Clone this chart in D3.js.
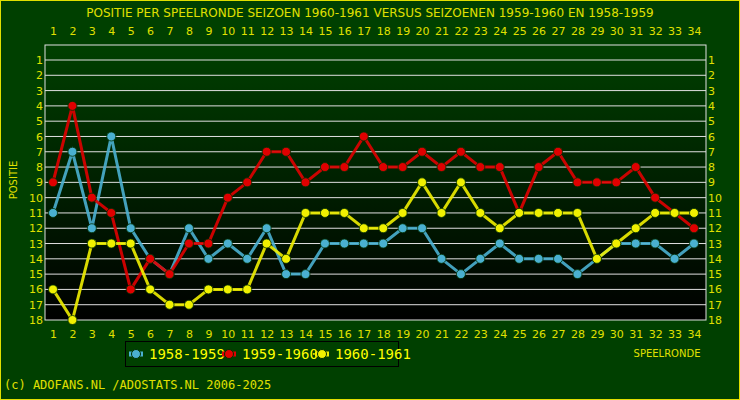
<!DOCTYPE html>
<html><head><meta charset="utf-8">
<script src="https://cdn.jsdelivr.net/npm/d3@7"></script>
<style>body{margin:0;background:#004000}</style>
</head><body>
<script>
const rounds = d3.range(1, 35);
const s5859 = [11,7,12,6,12,14,15,12,14,13,14,12,15,15,13,13,13,13,12,12,14,15,14,13,14,14,14,15,14,13,13,13,14,13];
const s5960 = [9,4,10,11,16,14,15,13,13,10,9,7,7,9,8,8,6,8,8,7,8,7,8,8,11,8,7,9,9,9,8,10,11,12];
const s6061 = [16,18,13,13,13,16,17,17,16,16,16,13,14,11,11,11,12,12,11,9,11,9,11,12,11,11,11,11,14,13,12,11,11,11];
const seriesNames = ["1958-1959", "1959-1960", "1960-1961"];
const colors = ["#4ab0d0", "#e00000", "#f0f000"];

const width = 740, height = 400;
const svg = d3.select("body").append("svg").attr("width", width).attr("height", height);

svg.append("rect").attr("x", 0.5).attr("y", 0.5).attr("width", width - 1).attr("height", height - 1)
    .attr("fill", "#004000").attr("stroke", "#e0e000");

const grad = svg.append("defs").append("linearGradient").attr("id", "bg").attr("x1", 0).attr("y1", 0).attr("x2", 0).attr("y2", 1);
grad.append("stop").attr("offset", "0%").attr("stop-color", "#004000");
grad.append("stop").attr("offset", "100%").attr("stop-color", "#000000");

const plotLeft = 45, plotRight = 706, plotTop = 45, plotBottom = 320;
const x = d3.scaleLinear().domain([1, 34]).range([53, 694]);
const y = d3.scaleLinear().domain([1, 18]).range([60, 320]);

svg.append("rect").attr("x", plotLeft).attr("y", plotTop).attr("width", plotRight - plotLeft).attr("height", plotBottom - plotTop)
    .attr("fill", "url(#bg)").attr("stroke", "#e0e0e0");

// grid lines
svg.append("g").selectAll("line").data(d3.range(1, 18)).join("line")
    .attr("x1", plotLeft).attr("x2", plotRight).attr("y1", d => y(d)).attr("y2", d => y(d))
    .attr("stroke", "#e0e0e0").attr("stroke-width", 1);

const font = "DejaVu Sans, sans-serif";
svg.append("text").attr("x", 370).attr("y", 17).attr("text-anchor", "middle")
    .attr("fill", "#e0e000").style("font", `12px ${font}`)
    .text("POSITIE PER SPEELRONDE SEIZOEN 1960-1961 VERSUS SEIZOENEN 1959-1960 EN 1958-1959");

// axes as tick labels
const tickStyle = g => g.selectAll("text").attr("fill", "#e0e000").style("font", `11px ${font}`);
[[38, "axisTop"], [327, "axisBottom"]].forEach(([ty, fn]) => {
    const g = svg.append("g").attr("transform", `translate(0,${ty})`)
        .call(d3[fn](x).tickValues(rounds).tickSize(0).tickFormat(d3.format("d")));
    g.select(".domain").remove();
    tickStyle(g);
});
[[plotLeft, "axisLeft"], [plotRight, "axisRight"]].forEach(([tx, fn]) => {
    const g = svg.append("g").attr("transform", `translate(${tx},0)`)
        .call(d3[fn](y).tickValues(d3.range(1, 19)).tickSize(0).tickPadding(2).tickFormat(d3.format("d")));
    g.select(".domain").remove();
    tickStyle(g);
});

svg.append("text").attr("transform", "translate(17,180) rotate(-90)").attr("text-anchor", "middle")
    .attr("fill", "#e0e000").style("font", `10px ${font}`).text("POSITIE");
svg.append("text").attr("x", 667).attr("y", 357).attr("text-anchor", "middle")
    .attr("fill", "#e0e000").style("font", `10px ${font}`).text("SPEELRONDE");

// series
const line = d3.line().x((d, i) => x(rounds[i])).y(d => y(d));
[s5859, s5960, s6061].forEach((s, k) => {
    svg.append("path").datum(s).attr("d", line).attr("fill", "none")
        .attr("stroke", colors[k]).attr("stroke-width", 3).attr("opacity", 0.9);
    svg.append("g").selectAll("circle").data(s).join("circle")
        .attr("cx", (d, i) => x(rounds[i])).attr("cy", d => y(d)).attr("r", 4.5)
        .attr("fill", colors[k]).attr("stroke", "#003000").attr("stroke-width", 0.8);
});

// legend
svg.append("rect").attr("x", 125.5).attr("y", 341.5).attr("width", 273).attr("height", 25)
    .attr("fill", "#004000").attr("stroke", "#000");
seriesNames.forEach((n, k) => {
    const lx = 129 + k * 93;
    svg.append("line").attr("x1", lx).attr("x2", lx + 14).attr("y1", 354).attr("y2", 354)
        .attr("stroke", colors[k]).attr("stroke-width", 5);
    svg.append("circle").attr("cx", lx + 7).attr("cy", 354).attr("r", 4.5).attr("fill", colors[k]).attr("stroke", "#003000");
    svg.append("text").attr("x", lx + 20).attr("y", 359).attr("fill", "#ffff00")
        .style("font", "14px DejaVu Sans Mono, monospace").text(n);
});

svg.append("text").attr("x", 4).attr("y", 389).attr("fill", "#e0e000")
    .style("font", "12px DejaVu Sans Mono, monospace").text("(c) ADOFANS.NL /ADOSTATS.NL 2006-2025");
</script>
</body></html>
